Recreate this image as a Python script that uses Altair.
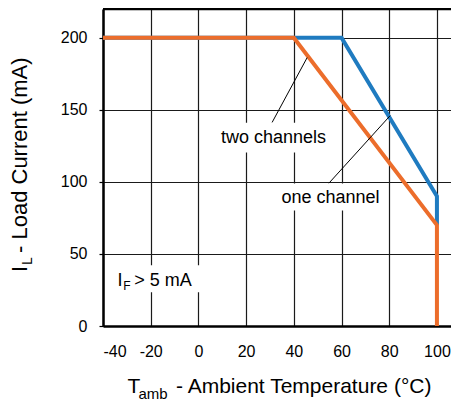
import altair as alt
import pandas as pd

# ---- data ----
one_t = [-40, 40, 100, 100]
one_i = [200, 200, 70, 0]
two_t = [-40, 60, 100, 100]
two_i = [200, 200, 90, 70]

x_ticks = [-40, -20, 0, 20, 40, 60, 80, 100]
y_ticks = [0, 50, 100, 150, 200]

lab_text = ["two channels", "one channel"]
lab_t = [31.5, 55.4]
lab_i = [126.8, 85.3]

lead_t1 = [30.9, 54.7]
lead_i1 = [141.3, 99.1]
lead_t2 = [45.6, 80.4]
lead_i2 = [186.3, 146.0]

box_t1 = [6.7, 32.3, -35.8]
box_t2 = [56.3, 78.6, 2.9]
box_i1 = [120.4, 80.2, 23.5]
box_i2 = [141.1, 98.9, 42.2]

note_main = ["I", "> 5 mA"]
note_main_t = [-33.9, -26.9]
note_main_i = [27.7, 27.7]
note_sub = ["F"]
note_sub_t = [-31.5]
note_sub_i = [25.3]

BLUE = "#1F7BC0"
ORANGE = "#EC6D2B"
FONT = "Liberation Sans"

W, H = 348, 317

xs = alt.Scale(domain=[-40, 105.9], nice=False, zero=False)
ys = alt.Scale(domain=[0, 220], nice=False, zero=False)
xax = alt.Axis(values=x_ticks, title=None, grid=True, tickSize=0, labelPadding=17,
               labelExpr="'' + datum.value")
yax = alt.Axis(values=y_ticks, title=None, grid=True, tickSize=4, labelPadding=12)


def X(f):
    return alt.X(f, type="quantitative", scale=xs, axis=xax)


def Y(f):
    return alt.Y(f, type="quantitative", scale=ys, axis=yax)


one_df = pd.DataFrame({"t": one_t, "i": one_i, "k": range(len(one_t))})
two_df = pd.DataFrame({"t": two_t, "i": two_i, "k": range(len(two_t))})
lab_df = pd.DataFrame({"t": lab_t, "i": lab_i, "text": lab_text})
lead_df = pd.DataFrame({"t": lead_t1, "i": lead_i1, "t2": lead_t2, "i2": lead_i2})
box_df = pd.DataFrame({"t": box_t1, "t2": box_t2, "i": box_i1, "i2": box_i2})
note_df = pd.DataFrame({"t": note_main_t, "i": note_main_i, "text": note_main})
sub_df = pd.DataFrame({"t": note_sub_t, "i": note_sub_i, "text": note_sub})
one_row = pd.DataFrame({"a": [0]})

boxes = alt.Chart(box_df).mark_rect(fill="white", stroke=None).encode(
    x=X("t"), x2="t2", y=Y("i"), y2="i2"
)
two_line = alt.Chart(two_df).mark_line(color=BLUE, strokeWidth=4, strokeCap="butt").encode(
    x=X("t"), y=Y("i"), order="k:Q"
)
one_line = alt.Chart(one_df).mark_line(color=ORANGE, strokeWidth=4, strokeCap="butt").encode(
    x=X("t"), y=Y("i"), order="k:Q"
)
leaders = alt.Chart(lead_df).mark_rule(color="black", strokeWidth=1).encode(
    x=X("t"), y=Y("i"), x2="t2", y2="i2"
)
labels = alt.Chart(lab_df).mark_text(
    font=FONT, fontSize=18, align="center", baseline="alphabetic", color="black"
).encode(x=X("t"), y=Y("i"), text="text:N")
note = alt.Chart(note_df).mark_text(
    font=FONT, fontSize=18, align="left", baseline="alphabetic", color="black"
).encode(x=X("t"), y=Y("i"), text="text:N")
note_s = alt.Chart(sub_df).mark_text(
    font=FONT, fontSize=12, align="left", baseline="alphabetic", color="black"
).encode(x=X("t"), y=Y("i"), text="text:N")

top_border = alt.Chart(one_row).mark_rule(color="black", strokeWidth=2.5).encode(
    x=alt.value(0), x2=alt.value(W), y=alt.value(0)
)


def txt(s, x, y, size, angle=0):
    return alt.Chart(one_row).mark_text(
        text=s, font=FONT, fontSize=size, align="left", baseline="alphabetic",
        color="black", angle=angle
    ).encode(x=alt.value(x), y=alt.value(y))


x_title = [
    txt("T", 24.5, 384, 21),
    txt("amb", 35.4, 389.5, 15),
    txt("- Ambient Temperature (°C)", 73, 384, 21),
]
y_title = [
    txt("I", -76, 263, 22, 270),
    txt("L", -71, 256, 14, 270),
    txt("- Load Current (mA)", -76, 244, 22, 270),
]

chart = alt.layer(
    boxes, two_line, one_line, leaders, labels, note, note_s, top_border,
    *x_title, *y_title
).properties(
    width=W, height=H,
    autosize=alt.AutoSizeParams(type="none"),
    padding={"left": 95, "top": 1, "right": 0, "bottom": 74},
).configure_view(stroke=None).configure_axis(
    gridColor="#1a1a1a", gridWidth=1.2, gridOpacity=1,
    domainColor="black", domainWidth=2.5,
    labelFont=FONT, labelFontSize=16, labelColor="black",
    tickColor="black", tickWidth=1.2,
)

chart.save("out.html", embed_options={"renderer": "svg", "actions": False})
